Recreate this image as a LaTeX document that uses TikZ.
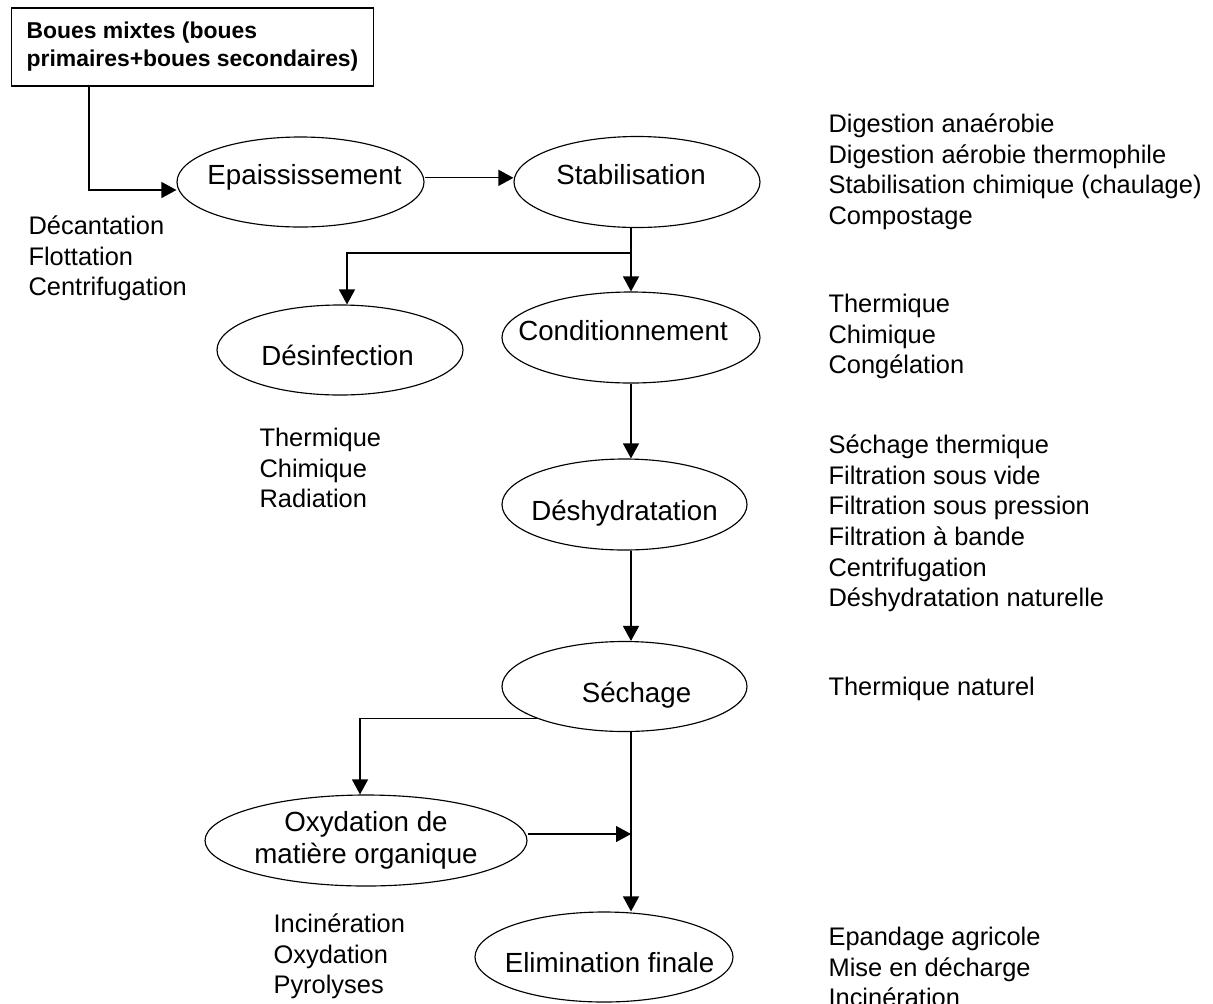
\documentclass[tikz,border=0pt]{standalone}
\usepackage{fontspec}
\setmainfont{Liberation Sans}
\usetikzlibrary{arrows.meta,shapes.geometric}
\newcommand{\listfont}{\fontsize{12.2pt}{14.69pt}\selectfont}
\newcommand{\ellfont}{\fontsize{13.3pt}{15.36pt}\selectfont}
\newcommand{\srcfont}{\fontsize{11pt}{13.44pt}\selectfont\bfseries}
% zero-width label, optionally nudged sideways by half of #1
\newcommand{\inell}[2][0pt]{\makebox[0pt]{\hspace*{#1}#2}}

\begin{document}
\begin{tikzpicture}[x=0.48pt, y=-0.48pt,
  line width=0.55pt,
  srcbox/.style={draw, rectangle, inner xsep=7.2pt, inner ysep=0pt,
    minimum height=37.44pt, align=left, font=\srcfont},
  ell/.style={draw, ellipse, inner sep=0pt, font=\ellfont,
    text height=#1, text depth=0pt},
  ell/.default=14.88pt,
  lst/.style={anchor=north west, inner sep=0pt, align=left,
    font=\listfont, yshift=10.28pt},
  arr/.style={-{Triangle[length=7.2pt,width=7.7pt]}},
]
\useasboundingbox (0,0) rectangle (1213,1003);

% source box
\node[srcbox] (src) at (192.5,47) {Boues mixtes (boues\\primaires+boues secondaires)};

% treatment stages
\node[ell=2.6pt, minimum width=118.56pt, minimum height=43.2pt] (epais) at (300.5,182) {\inell[3.84pt]{Epaississement}};
\node[ell=2.6pt, minimum width=118.08pt, minimum height=43.68pt] (stab) at (637,182) {\inell[-5.76pt]{Stabilisation}};
\node[ell=2.6pt, minimum width=123.84pt, minimum height=43.68pt] (cond) at (631,337.5) {\inell[-7.68pt]{Conditionnement}};
\node[ell, minimum width=118.08pt, minimum height=43.2pt] (desinf) at (340,350) {\inell[-2.4pt]{Désinfection}};
\node[ell, minimum width=117.6pt, minimum height=43.68pt] (deshyd) at (624.5,504.5) {\inell{Déshydratation}};
\node[ell, minimum width=117.6pt, minimum height=43.2pt] (sech) at (624.5,686.5) {\inell[11.52pt]{Séchage}};
\node[draw, ellipse, inner sep=0pt, font=\ellfont, align=center,
  minimum width=154.56pt, minimum height=43.68pt] (oxyd) at (366,840.5) {Oxydation de\\matière organique};
\node[ell, minimum width=123.84pt, minimum height=43.2pt] (elim) at (604,957) {\inell[5.28pt]{Elimination finale}};

% process lists
\node[lst] (l1) at (28,234) {\strut Décantation\\Flottation\\Centrifugation};
\node[lst] (l2) at (828,132) {\strut Digestion anaérobie\\Digestion aérobie thermophile\\Stabilisation chimique (chaulage)\\Compostage};
\node[lst] (l3) at (828,312) {\strut Thermique\\Chimique\\Congélation};
\node[lst] (l4) at (259,446) {\strut Thermique\\Chimique\\Radiation};
\node[lst] (l5) at (828,453) {\strut Séchage thermique\\Filtration sous vide\\Filtration sous pression\\Filtration à bande\\Centrifugation\\Déshydratation naturelle};
\node[lst] (l6) at (828,695) {\strut Thermique naturel};
\node[lst] (l7) at (273,932) {\strut Incinération\\Oxydation\\Pyrolyses};
\node[lst] (l8) at (828,945) {\strut Epandage agricole\\Mise en décharge\\Incinération};

% branch points on the main line
\coordinate (bend0) at (89,190);
\coordinate (split1) at (631,253);
\coordinate (join1) at (631,834);

% connectors
\draw[arr] (src.south -| bend0) |- ([yshift=-3.84pt]epais.west);
\draw[arr] ([yshift=2pt]epais.east) -- ([yshift=2pt]stab.west);
\draw[arr] (stab.south -| split1) -- (cond.north -| split1);
\draw[arr] (split1) -| ([xshift=3.36pt]desinf.north);
\draw[arr] (cond.south) -- (cond.south |- deshyd.north);
\draw[arr] (deshyd.south -| cond.south) -- (sech.north -| cond.south);
\draw[arr] (sech.south -| join1) -- (elim.north -| join1);
\draw[arr] (sech.200) -| ([xshift=-2.88pt]oxyd.north);
\draw[arr] (oxyd.east |- join1) -- (join1);
\end{tikzpicture}
\end{document}
